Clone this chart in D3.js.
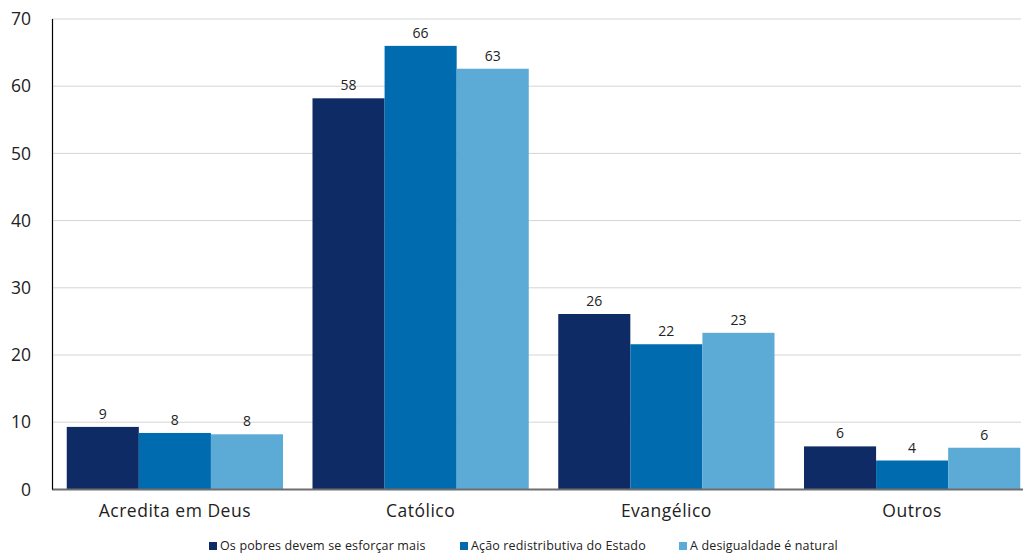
<!DOCTYPE html>
<html><head><meta charset="utf-8">
<script src="https://cdn.jsdelivr.net/npm/d3@7"></script>
<style>body{margin:0;background:#fff}svg{display:block}text{font-family:"Open Sans",sans-serif;fill:#222}</style>
</head><body><svg id="c" width="1023" height="553"></svg>
<script>
const categories = ["Acredita em Deus", "Católico", "Evangélico", "Outros"];
const seriesNames = ["Os pobres devem se esforçar mais", "Ação redistributiva do Estado", "A desigualdade é natural"];
const pobres = [9.3, 58.2, 26.1, 6.4];
const acao = [8.4, 66.0, 21.6, 4.3];
const desig = [8.2, 62.6, 23.3, 6.2];
const yTicks = [0, 10, 20, 30, 40, 50, 60, 70];
const colors = ["#0f2b66", "#006bae", "#5caad6"];

(function () {
const series = [pobres, acao, desig];
const svg = d3.select("#c");
const mLeft = 52, mRight = 1035, mTop = 19, mBottom = 489.4;
const x = d3.scaleBand().domain(categories).range([mLeft, mRight]).paddingInner(0.12).paddingOuter(0.06);
const x1 = d3.scaleBand().domain(seriesNames).range([0, x.bandwidth()]);
const y = d3.scaleLinear().domain([0, 70]).range([mBottom, mTop]);

svg.append("g").selectAll("line").data(yTicks.filter(d => d > 0)).join("line")
  .attr("x1", mLeft).attr("x2", 1021).attr("y1", d => y(d)).attr("y2", d => y(d))
  .attr("stroke", "#d4d4d4").attr("stroke-width", 1);

svg.append("g").selectAll("text").data(yTicks).join("text")
  .attr("x", 31).attr("y", d => y(d)).attr("dy", "0.35em").attr("text-anchor", "end")
  .attr("font-size", 17.5).text(d => d);

const g = svg.append("g");
categories.forEach((c, i) => {
  seriesNames.forEach((s, j) => {
    const v = series[j][i];
    g.append("rect").attr("x", x(c) + x1(s)).attr("y", y(v)).attr("width", x1.bandwidth())
      .attr("height", y(0) - y(v)).attr("fill", colors[j]);
    g.append("text").attr("x", x(c) + x1(s) + x1.bandwidth() / 2).attr("y", y(v) - 8)
      .attr("text-anchor", "middle").attr("font-size", 14).text(Math.round(v));
  });
});

svg.append("line").attr("x1", mLeft).attr("x2", 1023).attr("y1", y(0)).attr("y2", y(0))
  .attr("stroke", "#6e6e6e").attr("stroke-width", 2);
svg.append("line").attr("x1", mLeft + 0.5).attr("x2", mLeft + 0.5).attr("y1", mTop).attr("y2", y(0))
  .attr("stroke", "#000").attr("stroke-width", 1.2);

svg.append("g").selectAll("text").data(categories).join("text")
  .attr("x", d => x(d) + x.bandwidth() / 2).attr("y", 517).attr("text-anchor", "middle")
  .attr("font-size", 17.5).attr("letter-spacing", 0.5).text(d => d);

const legX = [209, 460, 679];
const lg = svg.append("g");
seriesNames.forEach((s, j) => {
  lg.append("rect").attr("x", legX[j]).attr("y", 542).attr("width", 8).attr("height", 8).attr("fill", colors[j]);
  lg.append("text").attr("x", legX[j] + 11).attr("y", 550).attr("font-size", 12.5).attr("letter-spacing", 0.15).text(s);
});
})();
</script></body></html>
